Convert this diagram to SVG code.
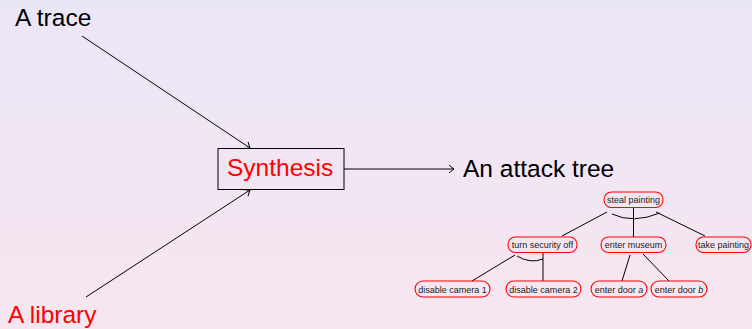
<svg xmlns="http://www.w3.org/2000/svg" width="752" height="329" viewBox="0 0 752 329">
<defs>
<linearGradient id="bg" x1="0" y1="0" x2="0" y2="1">
<stop offset="0" stop-color="#ebe6f7"/>
<stop offset="1" stop-color="#f7e6ef"/>
</linearGradient>
<marker id="ah" viewBox="-6 -5 8 10" markerWidth="8" markerHeight="10" refX="0" refY="0" orient="auto" markerUnits="userSpaceOnUse">
<path d="M-5,-4 Q-1.5,-1 0,0 Q-1.5,1 -5,4" fill="none" stroke="#000" stroke-width="1"/>
</marker>
<style>
.big{font-family:"Liberation Sans",Arial,sans-serif;font-size:24.5px}
.red{fill:#ff0000}
.blk{fill:#000}
.n rect{fill:none;stroke:#ff0000;stroke-width:1.1}
.n text{font-family:"Liberation Sans",Arial,sans-serif;font-size:9px;fill:#222;text-anchor:middle}
.e line,.e path{stroke:#000;stroke-width:1;fill:none}
.a{stroke:#000;stroke-width:1;fill:none;marker-end:url(#ah)}
</style>
</defs>
<rect width="752" height="329" fill="url(#bg)"/>

<g id="trace"><text class="big blk" x="15" y="26">A trace</text></g>
<g id="library"><text class="big red" x="8" y="323">A library</text></g>
<g id="synthesis">
<rect x="218" y="148.5" width="126" height="41" fill="none" stroke="#000" stroke-width="1"/>
<text class="big red" x="227" y="176">Synthesis</text>
</g>
<g id="attacktree"><text class="big blk" x="463" y="177">An attack tree</text></g>

<g id="connectors">
<line class="a" x1="82" y1="36" x2="250" y2="148"/>
<line class="a" x1="86" y1="297" x2="250" y2="190"/>
<line class="a" x1="344" y1="169" x2="454" y2="169"/>
</g>

<g id="tree-edges" class="e">
<line x1="607" y1="212" x2="562" y2="236"/>
<line x1="633.5" y1="207" x2="633.5" y2="237"/>
<line x1="656" y1="212" x2="705" y2="236"/>
<path d="M612,214 Q633,224 660,213"/>
<line x1="515" y1="255" x2="472" y2="281"/>
<line x1="543" y1="252" x2="543" y2="281"/>
<path d="M517,256 Q530,264 543,259"/>
<line x1="630" y1="255" x2="622" y2="281"/>
<line x1="643" y1="254" x2="669" y2="281"/>
</g>

<g id="n-steal" class="n"><rect x="604" y="192" width="59" height="15.5" rx="7.5"/><text x="633.5" y="203">steal painting</text></g>
<g id="n-turn" class="n"><rect x="508" y="237" width="69" height="15.5" rx="7.5"/><text x="542.5" y="248">turn security off</text></g>
<g id="n-museum" class="n"><rect x="601" y="237" width="65" height="15.5" rx="7.5"/><text x="633.5" y="248">enter museum</text></g>
<g id="n-take" class="n"><rect x="696" y="237" width="55" height="15.5" rx="7.5"/><text x="723.5" y="248">take painting</text></g>
<g id="n-cam1" class="n"><rect x="415" y="281" width="75" height="16" rx="8"/><text x="452.5" y="292.5">disable camera 1</text></g>
<g id="n-cam2" class="n"><rect x="506" y="281" width="75" height="16" rx="8"/><text x="543.5" y="292.5">disable camera 2</text></g>
<g id="n-doora" class="n"><rect x="591" y="281" width="56" height="16" rx="8"/><text x="619" y="292.5">enter door <tspan font-style="italic">a</tspan></text></g>
<g id="n-doorb" class="n"><rect x="651" y="281" width="56" height="16" rx="8"/><text x="679" y="292.5">enter door <tspan font-style="italic">b</tspan></text></g>
</svg>
